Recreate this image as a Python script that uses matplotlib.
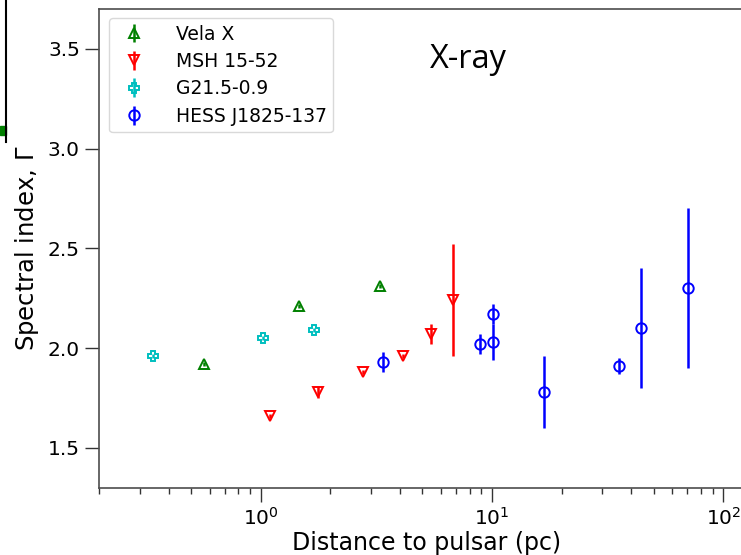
import numpy as np
import matplotlib.pyplot as plt
from matplotlib.lines import Line2D
from matplotlib.patches import Rectangle

# ------------------------------------------------------------------
# X-ray spectral index vs distance to pulsar
# ------------------------------------------------------------------
vela_d = [0.57, 1.46, 3.27]
vela_g = [1.92, 2.21, 2.31]
vela_e = [0.01, 0.01, 0.01]

msh_d = [1.09, 1.77, 2.77, 4.11, 5.44, 6.80]
msh_g = [1.66, 1.78, 1.88, 1.96, 2.07, 2.24]
msh_e = [0.01, 0.03, 0.01, 0.01, 0.05, 0.28]

g21_d = [0.342, 1.02, 1.70]
g21_g = [1.96, 2.05, 2.09]
g21_e = [0.01, 0.01, 0.01]

hess_d = [3.37, 8.87, 10.1, 10.1, 16.7, 35.5, 44.2, 70.7]
hess_g = [1.93, 2.02, 2.17, 2.03, 1.78, 1.91, 2.10, 2.30]
hess_e = [0.05, 0.05, 0.05, 0.09, 0.18, 0.04, 0.30, 0.40]

SERIES = [
    ("Vela X", vela_d, vela_g, vela_e, "green", "^"),
    ("MSH 15-52", msh_d, msh_g, msh_e, "red", "v"),
    ("G21.5-0.9", g21_d, g21_g, g21_e, "c", "P"),
    ("HESS J1825-137", hess_d, hess_g, hess_e, "blue", "o"),
]

fig = plt.figure(figsize=(7.41, 5.55), dpi=100)
# right part of the axes falls outside the cropped figure, like the reference
ax = fig.add_axes([0.134, 0.121, 0.8826, 0.863])

for label, d, g, e, col, mk in SERIES:
    ms = 7.5 if mk == "o" else 7
    ax.errorbar(d, g, yerr=e, fmt=mk, color=col, mfc="none", mec=col,
                ms=ms, mew=1.4, elinewidth=1.8, capsize=0, label=label)

ax.set_xscale("log")
ax.set_xlim(0.2, 135)
ax.set_ylim(1.3, 3.7)
ax.set_yticks([1.5, 2.0, 2.5, 3.0, 3.5])
ax.set_xlabel("Distance to pulsar (pc)", fontsize=17, labelpad=1)
ax.set_ylabel("Spectral index, $\\Gamma$", fontsize=17.5, labelpad=5)
ax.tick_params(axis="both", which="major", labelsize=14.5, length=10, width=1,
               color="0.2", pad=4)
ax.tick_params(axis="x", which="minor", length=4, width=1, color="0.2")
ax.tick_params(axis="y", which="minor", left=False)
for sp in ax.spines.values():
    sp.set_color("0.3")
    sp.set_linewidth(1.2)

ax.text(0.564, 0.895, "X-ray", transform=ax.transAxes, fontsize=23.5,
        family="Open Sans", ha="center", va="center")

ax.legend(loc="upper left", fontsize=13.5, borderpad=0.35, handletextpad=1.2,
          labelspacing=0.45, bbox_to_anchor=(0.015, 0.981), borderaxespad=0,
          framealpha=1, edgecolor="0.85")

# edge of the neighbouring panel, cut off at the left
fig.add_artist(Line2D([0.008, 0.008], [0.745, 1.0], color="black", lw=1.5,
                      transform=fig.transFigure))
fig.add_artist(Rectangle((0.0, 0.757), 0.008, 0.016, color="green",
                         transform=fig.transFigure))

plt.savefig("out.png", dpi=100)
